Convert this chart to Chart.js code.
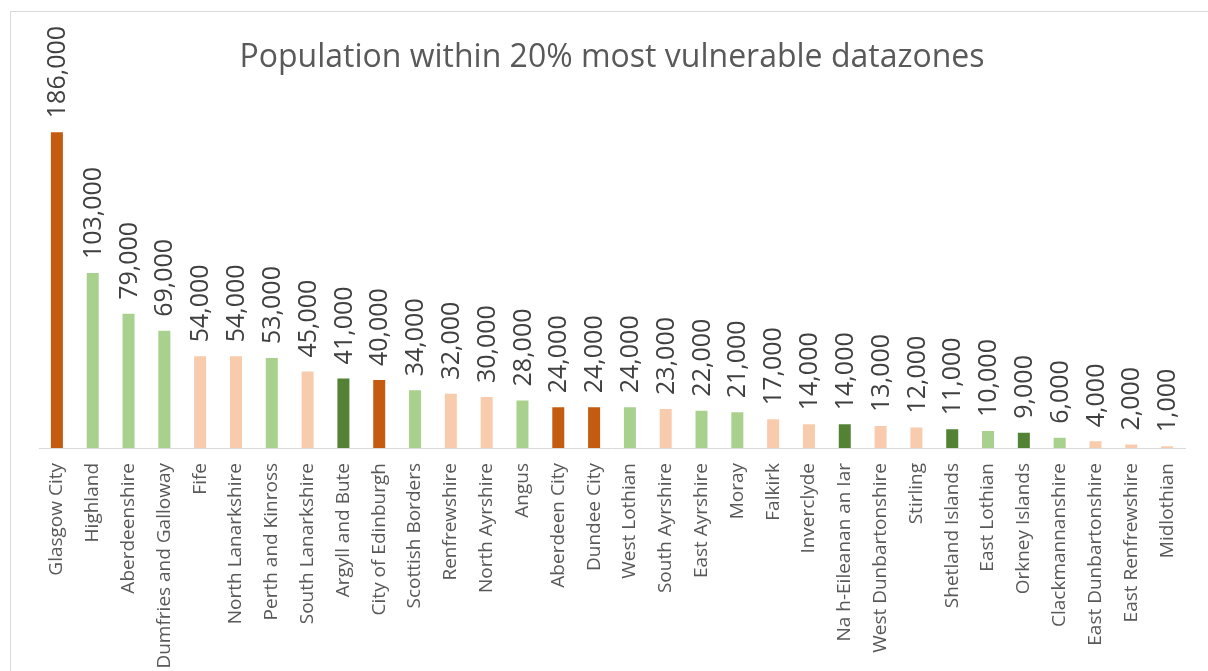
<!DOCTYPE html>
<html>
<head>
<meta charset="utf-8">
<script src="https://cdn.jsdelivr.net/npm/chart.js@4/dist/chart.umd.min.js"></script>
<style>
  html, body { margin: 0; padding: 0; background: #fff; overflow: hidden; }
  #box { position: absolute; left: 10px; top: 11px; width: 1210px; height: 670px; border: 1px solid #d9d9d9; background: #fff; }
  #chart { display: block; }
</style>
</head>
<body>
<div id="box"><canvas id="chart" width="1196" height="659"></canvas></div>
<script>
const councils = ["Glasgow City", "Highland", "Aberdeenshire", "Dumfries and Galloway", "Fife", "North Lanarkshire",
  "Perth and Kinross", "South Lanarkshire", "Argyll and Bute", "City of Edinburgh", "Scottish Borders", "Renfrewshire",
  "North Ayrshire", "Angus", "Aberdeen City", "Dundee City", "West Lothian", "South Ayrshire", "East Ayrshire", "Moray",
  "Falkirk", "Inverclyde", "Na h-Eileanan an Iar", "West Dunbartonshire", "Stirling", "Shetland Islands", "East Lothian",
  "Orkney Islands", "Clackmannanshire", "East Dunbartonshire", "East Renfrewshire", "Midlothian"];
const population = [186000, 103000, 79000, 69000, 54000, 54000, 53000, 45000, 41000, 40000, 34000, 32000,
  30000, 28000, 24000, 24000, 24000, 23000, 22000, 21000, 17000, 14000, 14000, 13000, 12000, 11000, 10000,
  9000, 6000, 4000, 2000, 1000];
// colour group per council (city, rural, urban-ish, island)
const groups = ["city", "rural", "rural", "rural", "mixed", "mixed", "rural", "mixed", "island", "city", "rural", "mixed",
  "mixed", "rural", "city", "city", "rural", "mixed", "rural", "rural", "mixed", "mixed", "island", "mixed", "mixed",
  "island", "rural", "island", "rural", "mixed", "mixed", "mixed"];
const groupColours = { city: "#C55A11", rural: "#A9D18E", mixed: "#F8CBAD", island: "#548235" };

const valueLabels = {
  id: "valueLabels",
  afterDatasetsDraw(chart) {
    const ctx = chart.ctx;
    const meta = chart.getDatasetMeta(0);
    ctx.save();
    ctx.font = "25px 'Open Sans'";
    ctx.fillStyle = "#404040";
    ctx.textAlign = "left";
    ctx.textBaseline = "middle";
    meta.data.forEach((bar, i) => {
      ctx.save();
      ctx.translate(bar.x, bar.y - 14);
      ctx.rotate(-Math.PI / 2);
      ctx.fillText(population[i].toLocaleString("en-GB"), 0, 1);
      ctx.restore();
    });
    ctx.restore();
  }
};

new Chart(document.getElementById("chart"), {
  type: "bar",
  data: {
    labels: councils,
    datasets: [{
      data: population,
      backgroundColor: groups.map((g) => groupColours[g]),
      barPercentage: 1,
      categoryPercentage: 0.335
    }]
  },
  options: {
    responsive: false,
    animation: false,
    layout: { padding: { left: 28, right: 22, top: 0, bottom: 0 } },
    plugins: {
      legend: { display: false },
      tooltip: { enabled: false },
      title: {
        display: true,
        text: "Population within 20% most vulnerable datazones",
        color: "#595959",
        font: { family: "'Open Sans'", size: 32, weight: "normal" },
        padding: { top: 27, bottom: 31 }
      }
    },
    scales: {
      x: {
        grid: { display: false },
        border: { color: "#d9d9d9", width: 1 },
        ticks: {
          autoSkip: false,
          minRotation: 90,
          maxRotation: 90,
          padding: 7,
          color: "#595959",
          font: { family: "'Open Sans'", size: 19 }
        },
        afterFit(scale) { scale.height = 659 + 12 - 448; }
      },
      y: { display: false, min: 0, max: 200000 }
    }
  },
  plugins: [valueLabels]
});
</script>
</body>
</html>
